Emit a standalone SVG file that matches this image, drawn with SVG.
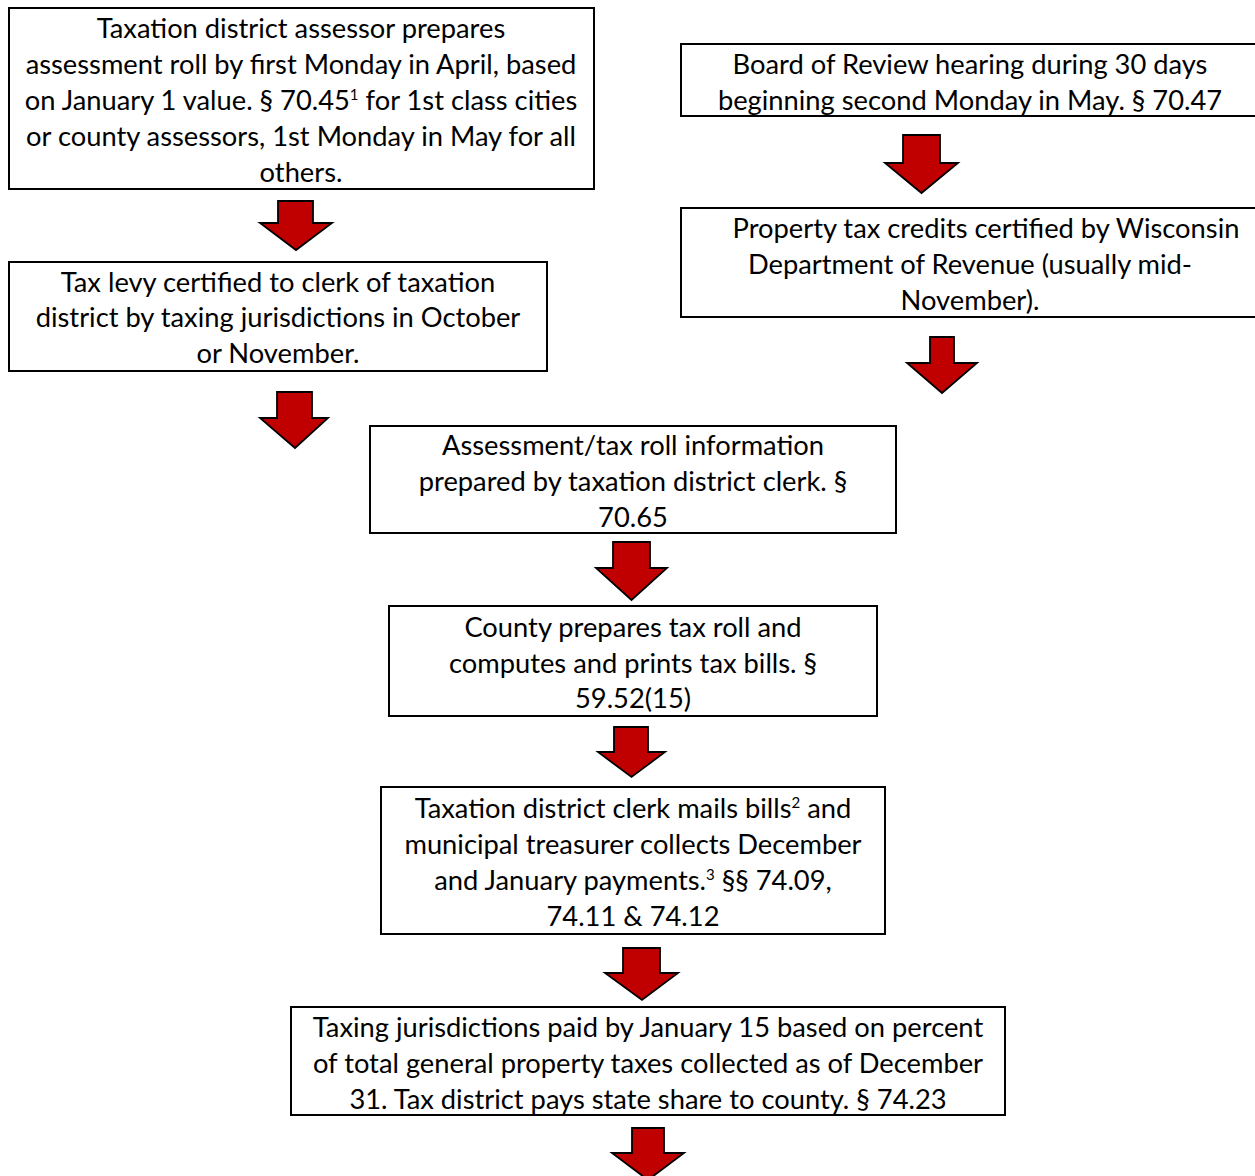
<svg xmlns="http://www.w3.org/2000/svg" width="1255" height="1176" viewBox="0 0 1255 1176">
<style>
.box{fill:#fff;stroke:#000;stroke-width:2}
.t{font-family:Lato,"Open Sans",sans-serif;font-size:27.3px;fill:#000;text-anchor:middle}
.sup{font-size:15px}
.arr{fill:#C00000;stroke:#000;stroke-width:1.8;stroke-linejoin:miter}
</style>
<rect width="1255" height="1176" fill="#fff"/>
<g id="connectors">
<path class="arr" d="M278,201 H313 V223 H332 L296,250 L260,223 H278 Z"/>
<path class="arr" d="M903,135 H940 V163 H958 L921.5,193 L885,163 H903 Z"/>
<path class="arr" d="M277,392 H312 V418 H328 L295,448 L260,418 H277 Z"/>
<path class="arr" d="M930,337 H954 V363 H977 L942,393 L907,363 H930 Z"/>
<path class="arr" d="M613,542 H650 V568 H667 L631.5,600 L596,568 H613 Z"/>
<path class="arr" d="M614,727 H648 V752 H665 L631.5,777 L598,752 H614 Z"/>
<path class="arr" d="M623,948 H660 V973 H678 L642,1000 L605,973 H623 Z"/>
<path class="arr" d="M632,1128 H664 V1153 H684 L648,1180 L612,1153 H632 Z"/>
</g>
<g id="n1">
<rect class="box" x="9" y="8" width="585" height="181"/>
<text class="t" x="301" y="38">Taxation district assessor prepares</text>
<text class="t" x="301" y="74">assessment roll by first Monday in April, based</text>
<text class="t" x="301" y="110">on January 1 value. § 70.45<tspan class="sup" dy="-10">1</tspan><tspan dy="10"> for 1st class cities</tspan></text>
<text class="t" x="301" y="146">or county assessors, 1st Monday in May for all</text>
<text class="t" x="301" y="182">others.</text>
</g>
<g id="n2">
<rect class="box" x="681" y="44" width="580" height="72"/>
<text class="t" x="970" y="74">Board of Review hearing during 30 days</text>
<text class="t" x="970" y="110">beginning second Monday in May. § 70.47</text>
</g>
<g id="n3">
<rect class="box" x="681" y="208" width="580" height="109"/>
<text class="t" x="986" y="238">Property tax credits certified by Wisconsin</text>
<text class="t" x="970" y="274">Department of Revenue (usually mid-</text>
<text class="t" x="970" y="310">November).</text>
</g>
<g id="n4">
<rect class="box" x="9" y="262" width="538" height="109"/>
<text class="t" x="278" y="292">Tax levy certified to clerk of taxation</text>
<text class="t" x="278" y="327">district by taxing jurisdictions in October</text>
<text class="t" x="278" y="363">or November.</text>
</g>
<g id="n5">
<rect class="box" x="370" y="426" width="526" height="107"/>
<text class="t" x="633" y="455">Assessment/tax roll information</text>
<text class="t" x="633" y="491">prepared by taxation district clerk. §</text>
<text class="t" x="633" y="527">70.65</text>
</g>
<g id="n6">
<rect class="box" x="389" y="606" width="488" height="110"/>
<text class="t" x="633" y="637">County prepares tax roll and</text>
<text class="t" x="633" y="673">computes and prints tax bills. §</text>
<text class="t" x="633" y="708">59.52(15)</text>
</g>
<g id="n7">
<rect class="box" x="381" y="787" width="504" height="147"/>
<text class="t" x="633" y="818">Taxation district clerk mails bills<tspan class="sup" dy="-10">2</tspan><tspan dy="10"> and</tspan></text>
<text class="t" x="633" y="854">municipal treasurer collects December</text>
<text class="t" x="633" y="890">and January payments.<tspan class="sup" dy="-10">3</tspan><tspan dy="10"> §§ 74.09,</tspan></text>
<text class="t" x="633" y="926">74.11 &amp; 74.12</text>
</g>
<g id="n8">
<rect class="box" x="291" y="1007" width="714" height="108"/>
<text class="t" x="648" y="1037">Taxing jurisdictions paid by January 15 based on percent</text>
<text class="t" x="648" y="1073">of total general property taxes collected as of December</text>
<text class="t" x="648" y="1109">31. Tax district pays state share to county. § 74.23</text>
</g>
</svg>
